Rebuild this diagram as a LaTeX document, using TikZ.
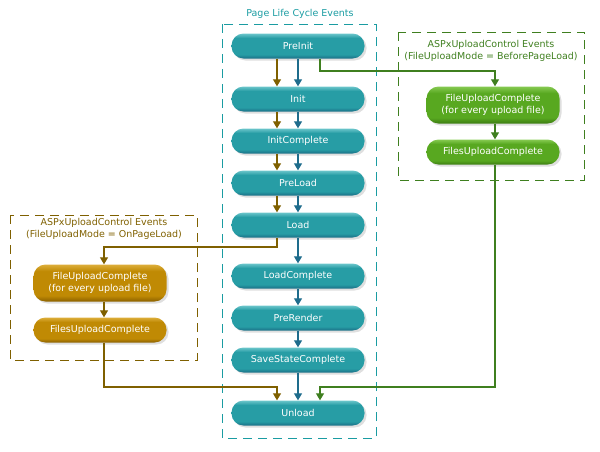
\documentclass[tikz,border=0pt]{standalone}
\usepackage{fontspec}
\setmainfont{DejaVu Sans}
\usetikzlibrary{arrows.meta,shadows}

\definecolor{tealtop}{HTML}{6CC6CB}
\definecolor{tealmid}{HTML}{279DA5}
\definecolor{tealbot}{HTML}{1A6E86}
\definecolor{tealline}{HTML}{1E6C8C}
\definecolor{tealtext}{HTML}{1A9CA2}
\definecolor{browntop}{HTML}{DDAE3A}
\definecolor{brownmid}{HTML}{C08A04}
\definecolor{brownbot}{HTML}{8A6000}
\definecolor{brownline}{HTML}{7F6000}
\definecolor{greentop}{HTML}{86CA52}
\definecolor{greenmid}{HTML}{58A820}
\definecolor{greenbot}{HTML}{3C7C12}
\definecolor{greenline}{HTML}{3F7F1F}

% box shadings: light top rim, flat body, dark bottom rim
\pgfdeclareverticalshading{tealshade}{100bp}{color(0bp)=(tealbot); color(25bp)=(tealbot);
  color(33bp)=(tealmid); color(66bp)=(tealmid); color(75bp)=(tealtop); color(100bp)=(tealtop)}
\pgfdeclareverticalshading{brownshade}{100bp}{color(0bp)=(brownbot); color(25bp)=(brownbot);
  color(33bp)=(brownmid); color(66bp)=(brownmid); color(75bp)=(browntop); color(100bp)=(browntop)}
\pgfdeclareverticalshading{greenshade}{100bp}{color(0bp)=(greenbot); color(25bp)=(greenbot);
  color(33bp)=(greenmid); color(66bp)=(greenmid); color(75bp)=(greentop); color(100bp)=(greentop)}

\tikzset{
  event/.style={rounded corners=12pt, minimum width=133pt, minimum height=25pt,
    inner sep=1pt, text=white, align=center,
    font=\fontsize{9.5}{12}\selectfont,
    drop shadow={shadow xshift=2pt, shadow yshift=-2pt, opacity=0.25}},
  pageevent/.style={event, shading=tealshade},
  brownevent/.style={event, shading=brownshade},
  greenevent/.style={event, shading=greenshade},
  title/.style={align=center, font=\fontsize{9.5}{12}\selectfont},
  frame/.style={line width=1pt, dash pattern=on 9pt off 6pt},
  flow/.style={line width=1.2pt, -{Triangle[width=8pt,length=7pt]}},
}

\begin{document}
\begin{tikzpicture}[x=1pt,y=-1pt]

\useasboundingbox (0,0) rectangle (600,451);

% Frames
\draw[frame, tealtext] (222,24) rectangle (376,438);
\draw[frame, greenline] (398,32) rectangle (584,180);
\draw[frame, brownline] (10,215) rectangle (197,360);

% Titles
\node[title, text=tealtext] (pagetitle) at (300,14) {Page Life Cycle Events};
\node[title, text=greenline] (greentitle) at (491,51) {ASPxUploadControl Events\\(FileUploadMode = BeforePageLoad)};
\node[title, text=brownline] (browntitle) at (104,229) {ASPxUploadControl Events\\(FileUploadMode = OnPageLoad)};

% Page events
\node[pageevent] (preinit) at (298,46) {PreInit};
\node[pageevent] (init) at (298,99) {Init};
\node[pageevent] (initcomplete) at (298,141) {InitComplete};
\node[pageevent] (preload) at (298,183) {PreLoad};
\node[pageevent] (load) at (298,225) {Load};
\node[pageevent] (loadcomplete) at (298,276) {LoadComplete};
\node[pageevent] (prerender) at (298,318) {PreRender};
\node[pageevent] (savestate) at (298,360) {SaveStateComplete};
\node[pageevent] (unload) at (298,413) {Unload};

% Upload events
\node[greenevent, minimum height=37pt] (greenfile) at (493,105) {FileUploadComplete\\(for every upload file)};
\node[greenevent] (greenfiles) at (493,152) {FilesUploadComplete};
\node[brownevent, minimum height=37pt] (brownfile) at (100,283) {FileUploadComplete\\(for every upload file)};
\node[brownevent] (brownfiles) at (100,330) {FilesUploadComplete};

% Columns and bends
\coordinate (bcol) at (277,0);
\coordinate (tcol) at (298,0);
\coordinate (gcol) at (320,0);
\coordinate (gturn) at (495,71);
\coordinate (bturn) at (104,247);
\coordinate (bjoin) at (104,387);
\coordinate (gjoin) at (495,387);

% Teal arrows
\foreach \a/\b in {preinit/init, init/initcomplete, initcomplete/preload,
    preload/load, load/loadcomplete, loadcomplete/prerender,
    prerender/savestate, savestate/unload}
  \draw[flow, tealline] (\a.south -| tcol) -- (\b.north -| tcol);

% Brown arrows
\foreach \a/\b in {preinit/init, init/initcomplete, initcomplete/preload, preload/load}
  \draw[flow, brownline] (\a.south -| bcol) -- (\b.north -| bcol);
\draw[flow, brownline] (load.south -| bcol) |- (bturn) -- (brownfile.north -| bturn);
\draw[flow, brownline] (brownfile.south -| bturn) -- (brownfiles.north -| bturn);
\draw[flow, brownline] (brownfiles.south -| bjoin) -- (bjoin) -| (unload.north -| bcol);

% Green arrows
\draw[flow, greenline] (preinit.south -| gcol) |- (gturn) -- (greenfile.north -| gturn);
\draw[flow, greenline] (greenfile.south -| gturn) -- (greenfiles.north -| gturn);
\draw[flow, greenline] (greenfiles.south -| gjoin) -- (gjoin) -| (unload.north -| gcol);

\end{tikzpicture}
\end{document}
